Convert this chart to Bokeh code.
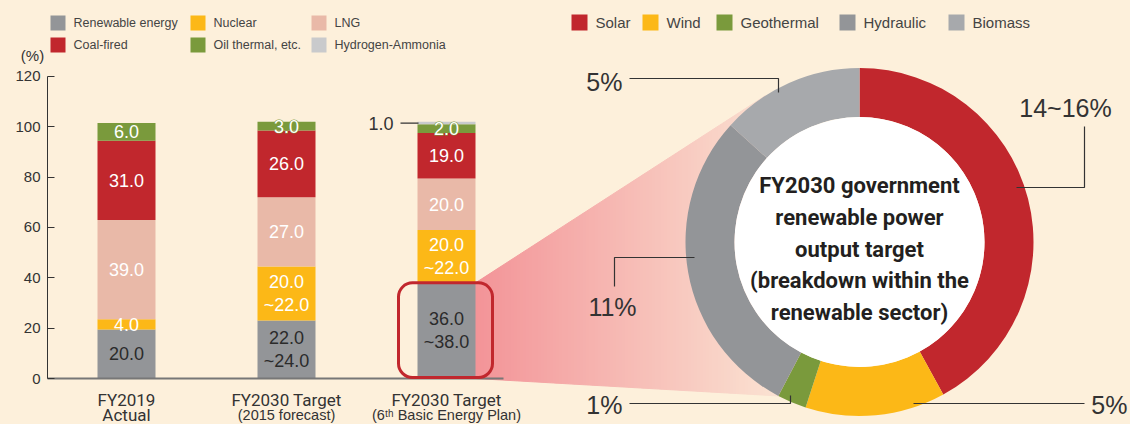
import math
import numpy as np
from bokeh.plotting import figure
from bokeh.models import (ColumnDataSource, FixedTicker, BoxAnnotation, Range1d,
                          GlobalInlineStyleSheet)
from bokeh.core.properties import value
from bokeh.embed import file_html
from bokeh.resources import INLINE

# ---------------- data ----------------
cat_line1 = ["FY2019", "FY2030 Target", "FY2030 Target"]
cat_line2 = ["Actual", "(2015 forecast)", "(6\u1d57\u02b0 Basic Energy Plan)"]

sources = ["Renewable energy", "Nuclear", "LNG", "Coal-fired", "Oil thermal, etc.", "Hydrogen-Ammonia"]
renewable = [19.5, 23.0, 38.0]
nuclear = [4.0, 21.5, 21.0]
lng = [39.5, 27.5, 20.5]
coal = [31.5, 26.5, 18.0]
oil = [7.0, 3.5, 3.5]
hydrogen = [0.0, 0.0, 1.0]

renewable_labels = ["20.0", "22.0\n~24.0", "36.0\n~38.0"]
nuclear_labels = ["4.0", "20.0\n~22.0", "20.0\n~22.0"]
lng_labels = ["39.0", "27.0", "20.0"]
coal_labels = ["31.0", "26.0", "19.0"]
oil_labels = ["6.0", "3.0", "2.0"]
hydrogen_labels = ["", "", "1.0"]

y_ticks = [0, 20, 40, 60, 80, 100, 120]
y_unit = "(%)"

renew_types = ["Solar", "Wind", "Geothermal", "Hydraulic", "Biomass"]
renew_shares = [15.5, 4.8, 1.0, 10.7, 4.9]
renew_labels = ["14~16%", "5%", "1%", "11%", "5%"]

center_title = ["FY2030 government", "renewable power", "output target",
                "(breakdown within the", "renewable sector)"]

# ---------------- styles ----------------
BG = "#FDF0DB"
TXT = "#333333"
C_RENEW, C_NUC, C_LNG, C_COAL, C_OIL, C_H2 = "#939598", "#FCB817", "#E9B9A8", "#C1272D", "#7A9A3C", "#C9CACC"
bar_colors = [C_RENEW, C_NUC, C_LNG, C_COAL, C_OIL, C_H2]
donut_colors = ["#C1272D", "#FCB817", "#7A9A3C", "#939598", "#A7A9AC"]
FONT = value("Liberation Sans")
NARROW = value("Roboto")

# page-pixel layout helpers
X0, PXX = 126.0, 160.0        # page x of first bar centre, px per category
Y0, PXY = 378.0, 2.5167       # page y of value 0, px per percent
BAR_W = 0.3625


def px_x(px):
    return (px - X0) / PXX


def px_y(py):
    return (Y0 - py) / PXY


W, H = 1130, 424
p = figure(width=W, height=H, output_backend="svg", toolbar_location=None,
           x_range=Range1d(px_x(0), px_x(W)), y_range=Range1d(px_y(H), px_y(0)),
           x_axis_location=None, min_border_left=0, min_border_right=0,
           min_border_top=0, min_border_bottom=0)
p.background_fill_color = BG
p.border_fill_color = BG
p.outline_line_color = None
p.grid.visible = False
p.stylesheets = [GlobalInlineStyleSheet(css="html, body { background-color: #FDF0DB; }")]

# ---------------- y axis ----------------
ax = p.yaxis[0]
ax.fixed_location = px_x(47)
ax.ticker = FixedTicker(ticks=y_ticks)
ax.bounds = (0, 120)
ax.major_tick_in = 7
ax.major_tick_out = 0
ax.minor_tick_line_color = None
ax.major_label_standoff = 7
ax.major_label_text_font_size = "15px"
ax.major_label_text_font = "Liberation Sans"
ax.major_label_text_color = TXT
ax.axis_line_color = "#333333"
ax.major_tick_line_color = "#333333"
p.text(x=[px_x(32)], y=[px_y(55)], text=[y_unit], text_align="center", text_baseline="middle",
       text_font=FONT, text_font_size="15px", text_color=TXT)

# ---------------- pink zoom wedge ----------------
R_OUT, R_IN = 174, 125
CX_PX, CY_PX = 859.0, 241.5
x_left = X0 + PXX * (2 + BAR_W / 2)
top_px = Y0 - PXY * renewable[2]
dx, dy = CX_PX - x_left, CY_PX - top_px
d = math.hypot(dx, dy)
th = math.atan2(dy, dx)
al = math.asin(R_OUT / d)
L = math.sqrt(d * d - R_OUT ** 2)
tx, ty = x_left + L * math.cos(th - al), top_px + L * math.sin(th - al)
total = sum(renew_shares)
phi = 2 * math.pi * sum(renew_shares[:3]) / total
bx, by = CX_PX + R_OUT * math.sin(phi), CY_PX - R_OUT * math.cos(phi)
up_x, up_y = [x_left, tx, CX_PX], [top_px, ty, CY_PX]
lo_x, lo_y = [x_left, bx, CX_PX], [Y0, by, CY_PX]
edges = sorted(set([float(v) for v in np.arange(x_left, CX_PX, 3.0)] + [tx, bx, CX_PX]))
c0, c1 = np.array([243, 148, 152]), np.array([251, 226, 210])
gx, gy, gc = [], [], []
for a, b in zip(edges[:-1], edges[1:]):
    ua, ub = np.interp(a, up_x, up_y), np.interp(b, up_x, up_y)
    la, lb = np.interp(a, lo_x, lo_y), np.interp(b, lo_x, lo_y)
    gx.append([px_x(a), px_x(b), px_x(b), px_x(a)])
    gy.append([px_y(ua), px_y(ub), px_y(lb), px_y(la)])
    t = min(max(((a + b) / 2 - x_left) / 300.0, 0), 1)
    c = (c0 + (c1 - c0) * t).astype(int)
    gc.append("#%02x%02x%02x" % tuple(c))
p.patches(xs=gx, ys=gy, fill_color=gc, line_color=gc, line_width=1)

# ---------------- stacked bars ----------------
keys = ["renewable", "nuclear", "lng", "coal", "oil", "hydrogen"]
layers = [renewable, nuclear, lng, coal, oil, hydrogen]
src = ColumnDataSource(dict(x=[0, 1, 2], **{k: v for k, v in zip(keys, layers)}))
p.vbar_stack(keys, x="x", width=BAR_W, color=bar_colors, line_color=None, source=src)

x0s = [0, 1, 2]
all_labels = [renewable_labels, nuclear_labels, lng_labels, coal_labels, oil_labels, hydrogen_labels]
lab = dict(x=[], y=[], text=[], color=[])
olab = dict(x=[], y=[], text=[])
for i in range(3):
    cum = 0.0
    for j, layer in enumerate(layers):
        h = layer[i]
        txt = all_labels[j][i]
        mid = cum + h / 2
        cum += h
        if not txt or j == 5:
            continue
        if j == 4:
            olab["x"].append(x0s[i]); olab["y"].append(mid); olab["text"].append(txt)
        else:
            lab["x"].append(x0s[i]); lab["y"].append(mid); lab["text"].append(txt)
            lab["color"].append("#2B2B2B" if j == 0 else "white")
p.text(x="x", y="y", text="text", text_color="color", source=ColumnDataSource(lab),
       text_align="center", text_baseline="middle", text_font=FONT, text_font_size="18px",
       text_line_height=1.12)
osrc = ColumnDataSource(olab)
# halo (green outline) underneath, then white text on top
p.text(x="x", y="y", text="text", text_color=C_OIL, text_outline_color=C_OIL,
       source=osrc, text_align="center", text_baseline="middle",
       text_font=FONT, text_font_size="18px")
p.text(x="x", y="y", text="text", text_color="white",
       source=osrc, text_align="center", text_baseline="middle",
       text_font=FONT, text_font_size="18px")

# hydrogen label with leader (bar 3)
h_y = sum(l[2] for l in layers[:5]) + hydrogen[2] / 2
bar3_left = 2 - BAR_W / 2
p.segment(x0=[bar3_left - 17 / PXX], y0=[h_y], x1=[bar3_left + 1 / PXX], y1=[h_y],
          line_color=TXT, line_width=1.2)
p.text(x=[bar3_left - 24 / PXX], y=[h_y], text=[hydrogen_labels[2]], text_align="right",
       text_baseline="middle", text_font=FONT, text_font_size="18px", text_color=TXT)

# baseline (x axis line)
p.segment(x0=[px_x(47)], y0=[0], x1=[px_x(503)], y1=[0], line_color="#777777", line_width=2)

# category labels
p.text(x=x0s, y=[px_y(399)] * 3, text=cat_line1, text_align="center", text_baseline="middle",
       text_font=NARROW, text_font_size="17px", text_color=TXT)
p.text(x=x0s[:1], y=[px_y(414)], text=cat_line2[:1], text_align="center", text_baseline="middle",
       text_font=NARROW, text_font_size="17px", text_color=TXT)
p.text(x=x0s[1:], y=[px_y(414)] * 2, text=cat_line2[1:], text_align="center", text_baseline="middle",
       text_font=FONT, text_font_size="14.5px", text_color=TXT)

# highlight box round bar 3 renewable segment
p.add_layout(BoxAnnotation(left=bar3_left - 19 / PXX, right=2 + BAR_W / 2 + 17 / PXX,
                           bottom=0.4, top=renewable[2], fill_alpha=0, line_color=C_COAL,
                           line_alpha=1.0, line_width=3, border_radius=14))

# ---------------- donut ----------------
cx, cy = px_x(CX_PX), px_y(CY_PX)
cum = np.cumsum([0] + renew_shares)
starts = [math.pi / 2 - 2 * math.pi * c / total for c in cum[:-1]]
ends = [math.pi / 2 - 2 * math.pi * c / total for c in cum[1:]]
dsrc = ColumnDataSource(dict(start=starts, end=ends, color=donut_colors, name=renew_types))
p.annular_wedge(x=cx, y=cy, inner_radius=R_IN, outer_radius=R_OUT, inner_radius_units="screen",
                outer_radius_units="screen", start_angle="start", end_angle="end",
                direction="clock", color="color", line_color=None, source=dsrc)
p.circle(x=[cx], y=[cy], radius=R_IN, radius_units="screen", fill_color="white", line_color=None)
p.text(x=[cx] * 5, y=[px_y(185 + 31.75 * k) for k in range(5)], text=center_title,
       text_align="center", text_baseline="middle", text_font=NARROW, text_font_style="bold",
       text_font_size="22px", text_color="#231F20")

# donut leaders and labels (page px layout)
leaders = [  # solar, wind, geothermal, hydraulic, biomass
    ([1016, 1084, 1084], [187, 187, 126]),
    ([913, 1084], [403, 403]),
    ([629, 790, 790], [403, 403, 395]),
    ([694, 614, 614], [257, 257, 286]),
    ([629, 778, 778], [78, 78, 92]),
]
p.multi_line(xs=[[px_x(v) for v in lx] for lx, ly in leaders],
             ys=[[px_y(v) for v in ly] for lx, ly in leaders], line_color=TXT, line_width=1.2)
lab_pos = [(1065, 107, "center"), (1127, 404, "right"), (622, 404, "right"),
           (612, 306, "center"), (622, 81, "right")]
for (lx, ly, al_), t in zip(lab_pos, renew_labels):
    p.text(x=[px_x(lx)], y=[px_y(ly)], text=[t], text_align=al_, text_baseline="middle",
           text_font=FONT, text_font_size="25px", text_color=TXT)

# ---------------- legends ----------------
leg1_cols = [50, 190, 311]
leg1_rows = [22.5, 44.5]
for k, name in enumerate(sources):
    r, c = divmod(k, 3)
    xl, yc = leg1_cols[c], leg1_rows[r]
    p.scatter(x=[px_x(xl + 7.5)], y=[px_y(yc)], marker="square", size=15,
              fill_color=bar_colors[k], line_color=None)
    p.text(x=[px_x(xl + 23)], y=[px_y(yc)], text=[name], text_baseline="middle",
           text_font=FONT, text_font_size="12.5px", text_color="#444444")

leg2_x = [571, 642, 716, 839, 948]
for k, name in enumerate(renew_types):
    xl = leg2_x[k]
    p.scatter(x=[px_x(xl + 8)], y=[px_y(22)], marker="square", size=16,
              fill_color=donut_colors[k], line_color=None)
    p.text(x=[px_x(xl + 24)], y=[px_y(22)], text=[name], text_baseline="middle",
           text_font=FONT, text_font_size="15px", text_color="#444444")

open("out.html", "w").write(file_html(p, INLINE))
